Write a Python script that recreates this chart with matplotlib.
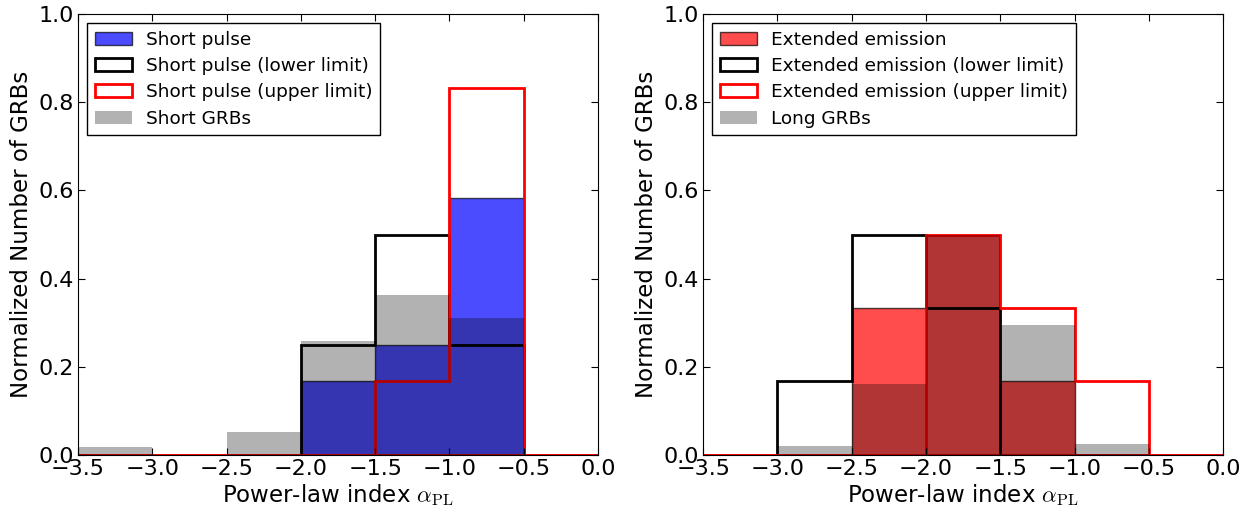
import numpy as np
import matplotlib
matplotlib.use("Agg")
import matplotlib.pyplot as plt

plt.rcParams['font.family'] = ['DejaVu Sans']
plt.rcParams['mathtext.fontset'] = 'cm'
plt.rcParams['xtick.direction'] = 'in'
plt.rcParams['ytick.direction'] = 'in'
plt.rcParams['xtick.top'] = True
plt.rcParams['ytick.right'] = True
plt.rcParams['xtick.major.size'] = 5
plt.rcParams['ytick.major.size'] = 5

bin_edges = [-3.5, -3.0, -2.5, -2.0, -1.5, -1.0, -0.5, 0.0]
bin_centers = [-3.25, -2.75, -2.25, -1.75, -1.25, -0.75, -0.25]

# Left panel
short_pulse = [0, 0, 0, 0.167, 0.25, 0.583, 0]
short_pulse_lower = [0, 0, 0, 0.25, 0.5, 0.25, 0]
short_pulse_upper = [0, 0, 0, 0, 0.167, 0.833, 0]
short_grbs = [0.018, 0, 0.052, 0.258, 0.362, 0.31, 0]

# Right panel
ext_emission = [0, 0, 0.333, 0.5, 0.167, 0, 0]
ext_emission_lower = [0, 0.167, 0.5, 0.333, 0, 0, 0]
ext_emission_upper = [0, 0, 0, 0.5, 0.333, 0.167, 0]
long_grbs = [0, 0.02, 0.16, 0.5, 0.295, 0.025, 0]

left_labels = ['Short pulse', 'Short pulse (lower limit)',
               'Short pulse (upper limit)', 'Short GRBs']
right_labels = ['Extended emission', 'Extended emission (lower limit)',
                'Extended emission (upper limit)', 'Long GRBs']

xticks = [-3.5, -3.0, -2.5, -2.0, -1.5, -1.0, -0.5, 0.0]
yticks = [0.0, 0.2, 0.4, 0.6, 0.8, 1.0]

fig = plt.figure(figsize=(12.59, 5.2), dpi=100)
ax1 = fig.add_axes([0.062, 0.125, 0.413, 0.848])
ax2 = fig.add_axes([0.5585, 0.125, 0.413, 0.848])


def panel(ax, fillvals, fillcolor, lower, upper, grb, labels):
    ax.hist(bin_centers, bins=bin_edges, weights=fillvals, histtype='stepfilled',
            facecolor=fillcolor, alpha=0.7, edgecolor='black', linewidth=1,
            label=labels[0])
    ax.hist(bin_centers, bins=bin_edges, weights=lower, histtype='stepfilled',
            fill=False, edgecolor='black', linewidth=2, label=labels[1])
    ax.hist(bin_centers, bins=bin_edges, weights=upper, histtype='stepfilled',
            fill=False, edgecolor='red', linewidth=2, label=labels[2])
    ax.hist(bin_centers, bins=bin_edges, weights=grb, histtype='stepfilled',
            facecolor='black', alpha=0.3, linewidth=0, label=labels[3])
    ax.set_xlim(-3.5, 0.0)
    ax.set_ylim(0.0, 1.0)
    ax.set_xticks(xticks)
    ax.set_yticks(yticks)
    ax.set_xticklabels(['\u2212%.1f' % abs(v) if v < 0 else '%.1f' % v for v in xticks])
    ax.set_yticklabels(['%.1f' % v for v in yticks])
    ax.tick_params(labelsize=16, pad=3)
    ax.set_xlabel(r'Power-law index $\alpha_{\rm PL}$', fontsize=16.5, labelpad=2)
    ax.set_ylabel('Normalized Number of GRBs', fontsize=16.5, labelpad=4)
    leg = ax.legend(loc='upper left', fontsize=13.3, fancybox=False,
                    framealpha=1, edgecolor='black', handlelength=2.0,
                    borderaxespad=0.5, labelspacing=0.45)
    leg.get_frame().set_linewidth(1)


panel(ax1, short_pulse, 'blue', short_pulse_lower, short_pulse_upper,
      short_grbs, left_labels)
panel(ax2, ext_emission, 'red', ext_emission_lower, ext_emission_upper,
      long_grbs, right_labels)

fig.savefig('out.png', dpi=100, facecolor='white')
